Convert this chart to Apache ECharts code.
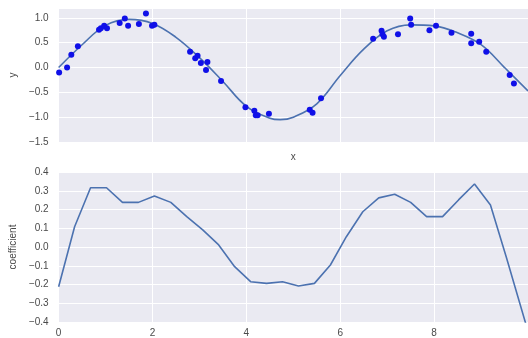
<!DOCTYPE html>
<html><head><meta charset="utf-8">
<script src="https://cdn.jsdelivr.net/npm/echarts@6/dist/echarts.min.js"></script>
<style>html,body{margin:0;padding:0;background:#fff;overflow:hidden}#c{width:528px;height:338px}</style>
</head><body><div id="c"></div>
<script>
// Top panel: noisy samples
const sampleX = [0.01,0.18,0.27,0.41,0.86,0.90,0.97,1.03,1.30,1.41,1.48,1.71,1.86,1.99,2.04,2.80,2.91,2.96,3.03,3.17,3.14,3.46,3.98,4.17,4.20,4.24,4.48,5.35,5.41,5.59,6.70,6.88,6.90,6.93,7.23,7.49,7.51,7.90,8.04,8.37,8.79,8.79,8.96,9.11,9.61,9.70];
const sampleY = [-0.10,0.0,0.26,0.43,0.76,0.79,0.84,0.79,0.90,0.99,0.84,0.88,1.09,0.84,0.86,0.32,0.19,0.24,0.09,0.11,-0.05,-0.27,-0.80,-0.87,-0.96,-0.96,-0.93,-0.85,-0.91,-0.62,0.58,0.74,0.67,0.62,0.67,0.99,0.86,0.75,0.84,0.70,0.68,0.49,0.52,0.32,-0.15,-0.32];
// Top panel: fitted curve
const fitX = [0,0.5,1.0,1.5,2.0,2.5,3.0,3.5,4.0,4.5,4.72,5.0,5.5,6.0,6.5,7.0,7.5,8.0,8.5,9.0,9.5,10];
const fitY = [0.0,0.46,0.85,0.97,0.89,0.61,0.20,-0.28,-0.78,-1.02,-1.05,-1.0,-0.73,-0.16,0.37,0.74,0.86,0.84,0.70,0.46,0.0,-0.47];
// Bottom panel: coefficient curve
const coefX = [0,0.34,0.68,1.02,1.36,1.70,2.04,2.39,2.73,3.07,3.41,3.75,4.09,4.43,4.77,5.11,5.45,5.79,6.13,6.48,6.82,7.16,7.50,7.84,8.18,8.52,8.86,9.20,9.54,10];
const coefY = [-0.212,0.108,0.316,0.316,0.238,0.238,0.272,0.238,0.162,0.091,0.011,-0.105,-0.185,-0.194,-0.185,-0.208,-0.194,-0.096,0.055,0.188,0.262,0.281,0.238,0.162,0.162,0.251,0.336,0.224,-0.056,-0.45];

const fmt = (v, d) => (v < 0 ? '\u2212' : '') + Math.abs(v).toFixed(d);
const txt = {color:'#4a4a4a', fontFamily:'Liberation Sans, Arial, sans-serif', fontSize:10};
const gridLine = {show:true, lineStyle:{color:'#ffffff', width:1}};
const chart = echarts.init(document.getElementById('c'));
chart.setOption({
  animation:false,
  grid:[
    {left:58, width:476, top:8, height:134, show:true, backgroundColor:'#EAEAF2', borderWidth:0},
    {left:58, width:476, top:172, height:150, show:true, backgroundColor:'#EAEAF2', borderWidth:0}
  ],
  xAxis:[
    {gridIndex:0, type:'value', min:0, max:10, interval:2, axisLine:{show:false}, axisTick:{show:false},
     axisLabel:{show:false}, splitLine:gridLine, name:'x', nameLocation:'middle', nameGap:10, nameTextStyle:txt},
    {gridIndex:1, type:'value', min:0, max:10, interval:2, axisLine:{show:false}, axisTick:{show:false},
     axisLabel:Object.assign({margin:6, showMaxLabel:false, formatter:v=>(v>=10?'':String(v))}, txt), splitLine:gridLine}
  ],
  yAxis:[
    {gridIndex:0, type:'value', min:-1.5, max:1.2, interval:0.5, axisLine:{show:false}, axisTick:{show:false},
     axisLabel:Object.assign({margin:10, formatter:v=>(Math.abs(v*2-Math.round(v*2))<1e-6 ? fmt(v,1) : '')}, txt),
     splitLine:gridLine, name:'y', nameLocation:'middle', nameGap:38, nameTextStyle:txt},
    {gridIndex:1, type:'value', min:-0.4, max:0.4, interval:0.1, axisLine:{show:false}, axisTick:{show:false},
     axisLabel:Object.assign({margin:10, formatter:v=>fmt(v,1)}, txt),
     splitLine:gridLine, name:'coefficient', nameLocation:'middle', nameGap:35, nameTextStyle:txt}
  ],
  series:[
    {type:'line', xAxisIndex:0, yAxisIndex:0, data:fitX.map((x,i)=>[x,fitY[i]]), smooth:0.4, showSymbol:false,
     lineStyle:{color:'#4C72B0', width:1.6}, z:2},
    {type:'scatter', xAxisIndex:0, yAxisIndex:0, data:sampleX.map((x,i)=>[x,sampleY[i]]), symbolSize:6,
     itemStyle:{color:'#1010e8', opacity:1}, z:3},
    {type:'line', xAxisIndex:1, yAxisIndex:1, data:coefX.map((x,i)=>[x,coefY[i]]), showSymbol:false,
     lineStyle:{color:'#4C72B0', width:1.6}}
  ]
});
</script></body></html>
